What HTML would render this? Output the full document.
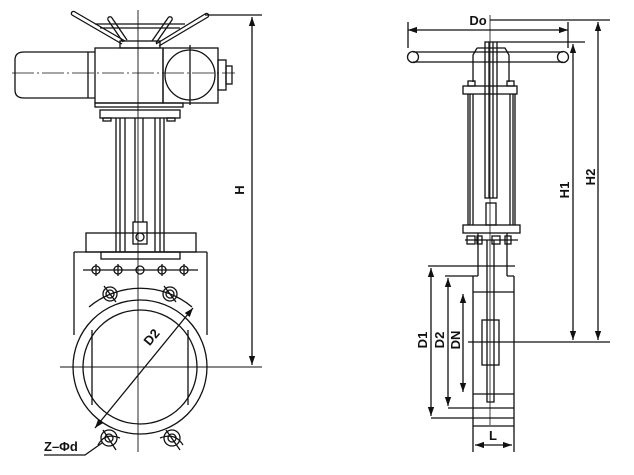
<!DOCTYPE html>
<html><head><style>body{margin:0;background:#fff}svg{display:block}text{font-family:"Liberation Sans",sans-serif;font-weight:bold;fill:#111}</style></head>
<body>
<svg width="634" height="475" viewBox="0 0 634 475" xmlns="http://www.w3.org/2000/svg">
<defs><marker id="a" viewBox="0 0 10 10" refX="10" refY="5" markerWidth="7" markerHeight="7" orient="auto-start-reverse"><path d="M0,1.5L10,5L0,8.5z" fill="#111"/></marker></defs>
<g fill="none" stroke="#111" stroke-width="1.3">
<!-- LEFT VIEW -->
<path d="M72,15 L122,44 M75,12 L125,41"/>
<path d="M72,15 a2,2 0 0 1 3,-3"/>
<path d="M108,20 L123,42 M112,18 L127,40 M108,20 a2,2 0 0 1 4,-2"/>
<path d="M205,14 L156,44 M208,17 L159,46 M205,14 a2,2 0 0 1 3,3"/>
<path d="M168,18 L152,41 M172,20 L156,43 M168,18 a2,2 0 0 1 4,2"/>
<path d="M95,24 L185,24 M100,28 L180,28"/>
<rect x="120" y="41" width="40" height="7"/>
<rect x="95" y="48" width="68" height="55"/>
<rect x="163" y="48" width="55" height="55"/>
<circle cx="190" cy="75" r="25"/>
<path d="M190,45 V105"/>
<rect x="218" y="60" width="8" height="30"/>
<rect x="226" y="66" width="6" height="18"/>
<path d="M95,52 H24 Q15,52 15,60 V90 Q15,98 24,98 H95 M88,52 V98"/>
<path d="M12,73 H235" stroke-width="0.8" stroke-dasharray="22,3,2,3"/>
<rect x="95" y="103" width="88" height="4"/>
<rect x="100" y="110" width="80" height="8"/>
<rect x="103" y="118" width="8" height="3"/><rect x="167" y="118" width="8" height="3"/>
<path d="M116,118 V252 M120,118 V252 M125,118 V252 M155,118 V252 M160,118 V252 M164,118 V252"/>
<path d="M135,118 V222 M143,118 V222"/>
<rect x="133" y="222" width="14" height="22"/>
<circle cx="140" cy="237" r="4"/>
<rect x="86" y="233" width="110" height="19"/>
<path d="M74,252 H207 M74,252 V335 M207,252 V335"/>
<rect x="101" y="252" width="79" height="7"/>
<path d="M83,270 H198"/>
<g><circle cx="96" cy="270" r="4"/><path d="M96,264 V276"/><circle cx="118" cy="270" r="4"/><path d="M118,264 V276"/><circle cx="140" cy="270" r="4"/><circle cx="162" cy="270" r="4"/><path d="M162,264 V276"/><circle cx="184" cy="270" r="4"/><path d="M184,264 V276"/></g>
<circle cx="140" cy="367" r="67"/>
<circle cx="140" cy="367" r="57"/>
<path d="M92,330 V405 M188,330 V405"/>
<path d="M89,307 A80,80 0 0 1 192,307"/>
<path d="M98,445 Q105,432 120,438 M160,438 Q175,432 183,445"/>
<circle cx="110" cy="294" r="7"/><circle cx="110" cy="294" r="4"/><path d="M104,286 L116,302"/>
<circle cx="170" cy="294" r="7"/><circle cx="170" cy="294" r="4"/><path d="M164,286 L176,302"/>
<circle cx="109" cy="438" r="8"/><circle cx="109" cy="438" r="4"/><path d="M103,430 L116,450"/>
<circle cx="172" cy="438" r="8"/><circle cx="172" cy="438" r="4"/><path d="M166,430 L180,450"/>
<path d="M138,10 V452" stroke-width="0.9"/>
<path d="M60,367 H262" stroke-width="0.9"/>
<path d="M95,428 L193,308" marker-start="url(#a)" marker-end="url(#a)"/>
<path d="M44,455 H85 L102,443"/>
<path d="M205,15 H262"/>
<path d="M252,17 V365" marker-start="url(#a)" marker-end="url(#a)"/>
<!-- RIGHT VIEW -->
<path d="M408,30 H568" marker-start="url(#a)" marker-end="url(#a)"/>
<path d="M408,22 V48 M568,22 V48"/>
<path d="M413,52 H563 M413,62 H563"/>
<circle cx="413" cy="57" r="5.5"/><circle cx="563" cy="57" r="5.5"/>
<path d="M477,48 H505 L509,55 V82 M477,48 L473,55 V82"/>
<rect x="485" y="42" width="12" height="156"/>
<path d="M489,42 V198 M493,42 V198"/>
<rect x="463" y="86" width="54" height="8"/>
<rect x="468" y="81" width="7" height="5"/><rect x="507" y="81" width="7" height="5"/>
<path d="M468,94 V225 M470,94 V225 M473,94 V225 M510,94 V225 M513,94 V225 M515,94 V225"/>
<rect x="486" y="203" width="10" height="22"/>
<rect x="463" y="225" width="57" height="8"/>
<path d="M465,240 H518"/>
<rect x="467" y="236" width="8" height="8"/><rect x="477" y="236" width="5" height="8"/><rect x="492" y="236" width="8" height="8"/><rect x="505" y="236" width="6" height="8"/>
<path d="M478,233 V276 M507,233 V276"/>
<path d="M428,266 H515 M445,276 H478 M507,276 H514 M473,276 V452 M514,276 V452"/>
<path d="M473,292 H514 M473,394 H514 M448,408 H514 M431,418 H514 M473,426 H514"/>
<path d="M487,240 V402 H494 V240"/>
<rect x="482" y="320" width="17" height="45"/>
<path d="M490,15 V425" stroke-width="0.8"/>
<path d="M468,342 H610"/>
<path d="M431,268 V416" marker-start="url(#a)" marker-end="url(#a)"/>
<path d="M448,278 V406" marker-start="url(#a)" marker-end="url(#a)"/>
<path d="M463,294 V392" marker-start="url(#a)" marker-end="url(#a)"/>
<path d="M475,445 H512" marker-start="url(#a)" marker-end="url(#a)"/>
<path d="M490,20 H610 M497,42 H585"/>
<path d="M598,22 V340" marker-start="url(#a)" marker-end="url(#a)"/>
<path d="M573,44 V340" marker-start="url(#a)" marker-end="url(#a)"/>
</g>
<text x="244" y="190" font-size="13" transform="rotate(-90 244 190)" text-anchor="middle">H</text>
<text x="155" y="340" font-size="13" transform="rotate(-50 155 340)" text-anchor="middle">D2</text>
<text x="44" y="451" font-size="13">Z–Φd</text>
<text x="478" y="25" font-size="13" text-anchor="middle">Do</text>
<text x="569" y="190" font-size="13" transform="rotate(-90 569 190)" text-anchor="middle">H1</text>
<text x="595" y="177" font-size="13" transform="rotate(-90 595 177)" text-anchor="middle">H2</text>
<text x="427" y="340" font-size="13" transform="rotate(-90 427 340)" text-anchor="middle">D1</text>
<text x="444" y="340" font-size="13" transform="rotate(-90 444 340)" text-anchor="middle">D2</text>
<text x="460" y="340" font-size="13" transform="rotate(-90 460 340)" text-anchor="middle">DN</text>
<text x="493" y="440" font-size="13" text-anchor="middle">L</text>
</svg>
</body></html>
